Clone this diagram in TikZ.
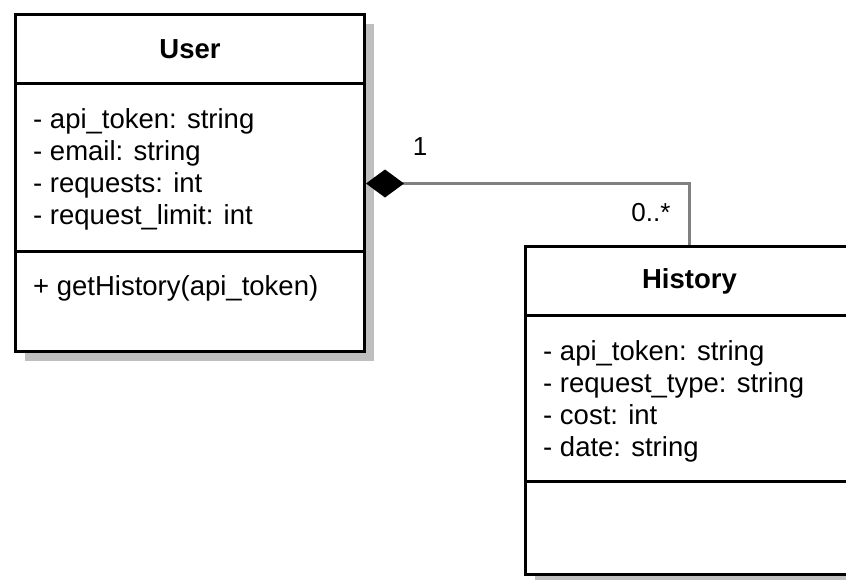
\documentclass[tikz,border=0pt]{standalone}
\usepackage{fontspec}
\setmainfont{Liberation Sans}
\usetikzlibrary{arrows.meta,shadows}

\newcommand{\umlfont}{\fontsize{27.5}{32}\selectfont}

\tikzset{
  umlpart/.style={draw, line width=3pt, fill=white, inner sep=0pt, anchor=north west,
    drop shadow={shadow xshift=9pt, shadow yshift=-9pt, fill=gray!50, opacity=1}},
  attrtext/.style={anchor=base west, inner sep=0pt, font=\umlfont},
  multlabel/.style={inner sep=0pt, font=\fontsize{26}{30}\selectfont},
  composition/.style={draw=black!50, line width=2.5pt,
    -{Diamond[length=38pt, width=28pt, color=black]}}
}

\begin{document}
\begin{tikzpicture}[x=1pt,y=-1pt]
    \clip (0,0) rectangle (846,579);

    % User class
    \node[umlpart,minimum width=349pt,minimum height=69pt,font=\umlfont\bfseries] (userhead) at (14,13) {User};
    \node[umlpart,minimum width=349pt,minimum height=168pt] (userattr) at (14,82) {};
    \node[umlpart,minimum width=349pt,minimum height=100pt] (useroper) at (14,250) {};

    \foreach \attr [count=\i] in {- api\_token: string,- email: string,- requests: int,- request\_limit: int}
    \node[attrtext] (userattr\i) at (33,96+32*\i) {\attr};
    \node[attrtext] (useroper1) at (33,295) {+ getHistory(api\_token)};

    % History class
    \node[umlpart,minimum width=328pt,minimum height=69pt,font=\umlfont\bfseries] (histhead) at (524,245) {History};
    \node[umlpart,minimum width=328pt,minimum height=166pt] (histattr) at (524,314) {};
    \node[umlpart,minimum width=328pt,minimum height=93pt] (histoper) at (524,480) {};

    \foreach \attr [count=\i] in {- api\_token: string,- request\_type: string,- cost: int,- date: string}
    \node[attrtext] (histattr\i) at (543,328+32*\i) {\attr};

    % composition
    \draw[composition] (histhead.north) |- ([yshift=-16pt]userattr.east);

    % label
    \node[multlabel] (multuser) at (420,147) {1};
    \node[multlabel] (multhist) at (651,213) {0..*};

  \end{tikzpicture}
\end{document}
